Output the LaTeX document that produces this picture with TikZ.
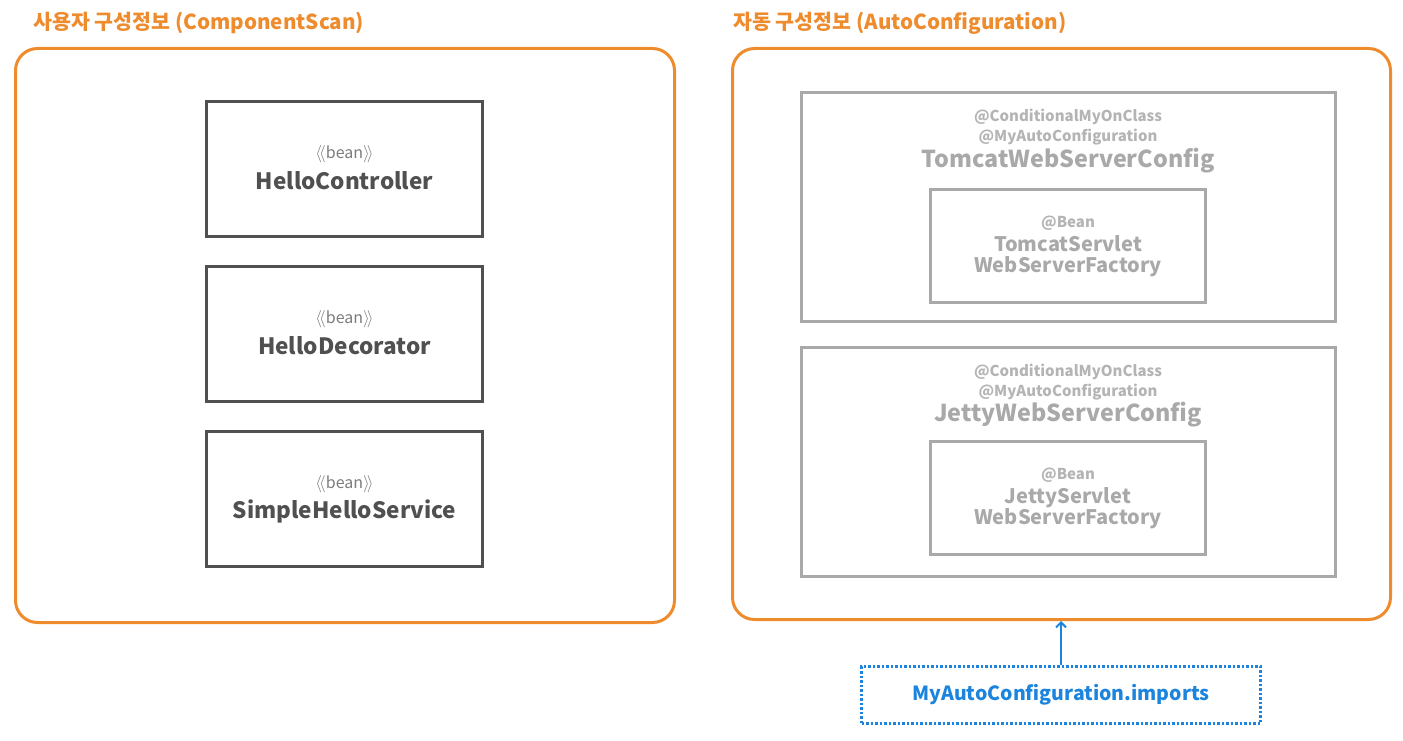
\documentclass[tikz,border=0pt]{standalone}
\usepackage{fontspec}
\setmainfont{Noto Sans CJK KR}
\usetikzlibrary{arrows.meta}
\definecolor{cfgorange}{HTML}{EE8B2D}
\definecolor{beangray}{HTML}{505050}
\definecolor{autogray}{HTML}{A9A9A9}
\definecolor{notegray}{HTML}{B4B4B4}
\definecolor{importblue}{HTML}{1C84DC}
\tikzset{
	group/.style={draw=cfgorange,line width=3pt,rounded corners=22pt,inner sep=0pt},
	grouptitle/.style={inner sep=0pt,anchor=west,text=cfgorange,font=\fontsize{20.6}{24}\selectfont\bfseries,
		text height=16.5pt,text depth=1.6pt},
	beanbox/.style={draw=beangray,line width=3pt,minimum width=276pt,minimum height=135pt,inner sep=0pt},
	stereo/.style={inner sep=0pt,text=beangray!75,font=\fontsize{16}{18}\selectfont,
		text height=12.8pt,text depth=1.3pt},
	beanname/.style={inner sep=0pt,text=beangray,font=\fontsize{22.5}{26}\selectfont\bfseries,
		text height=18pt,text depth=1.8pt},
	cfgbox/.style={draw=autogray,line width=3pt,minimum width=534pt,minimum height=229pt,inner sep=0pt},
	factorybox/.style={draw=autogray,line width=3pt,minimum width=275pt,minimum height=113pt,inner sep=0pt},
	anno/.style={inner sep=0pt,text=notegray,font=\fontsize{15}{18}\selectfont\bfseries,
		text height=12pt,text depth=1.2pt},
	cfgname/.style={inner sep=0pt,text=autogray,font=\fontsize{23.3}{27}\selectfont\bfseries,
		text height=18.6pt,text depth=1.9pt},
	factoryname/.style={inner sep=0pt,text=autogray,font=\fontsize{20}{24}\selectfont\bfseries,
		text height=16pt,text depth=1.6pt},
	importbox/.style={draw=importblue,line width=2.5pt,dotted,minimum width=399pt,minimum height=57pt,
		text=importblue,font=\fontsize{19.5}{24}\selectfont\bfseries}
}
\newcommand{\stereobean}{$\langle\!\langle$bean$\rangle\!\rangle$}
\begin{document}
\begin{tikzpicture}[x=1pt,y=-1pt]
	\useasboundingbox (0,0) rectangle (1403,741);
	
	\node[grouptitle] (usertitle) at (33,22) {사용자 구성정보 (ComponentScan)};
	\node[group,minimum width=659pt,minimum height=574pt] (user) at (345,335.5) {};
	
	\node[beanbox] (ctrl) at (344.5,169) {};
	\node[stereo] (ctrlst) at (344.5,153) {\stereobean};
	\node[beanname] (ctrlname) at (344.5,181) {HelloController};
	
	\node[beanbox] (deco) at (344.5,334) {};
	\node[stereo] (decost) at (344.5,318) {\stereobean};
	\node[beanname] (deconame) at (344.5,346) {HelloDecorator};
	
	\node[beanbox] (svc) at (344.5,498.5) {};
	\node[stereo] (svcst) at (344.5,483) {\stereobean};
	\node[beanname] (svcname) at (344.5,510) {SimpleHelloService};
	
	\node[grouptitle] (autotitle) at (733,22) {자동 구성정보 (AutoConfiguration)};
	\node[group,minimum width=658pt,minimum height=571pt] (auto) at (1061.5,334) {};
	
	\node[cfgbox] (tomcat) at (1068.5,207) {};
	\node[anno] (tomcatcond) at (1068,116) {@ConditionalMyOnClass};
	\node[anno] (tomcatauto) at (1068,136) {@MyAutoConfiguration};
	\node[cfgname] (tomcatname) at (1068,159) {TomcatWebServerConfig};
	\node[factorybox] (tomcatfac) at (1068,246) {};
	\node[anno] (tomcatbean) at (1068,222) {@Bean};
	\node[factoryname] (tomcatfac1) at (1068,244) {TomcatServlet};
	\node[factoryname] (tomcatfac2) at (1068,265) {WebServerFactory};
	
	\node[cfgbox] (jetty) at (1068.5,461.5) {};
	\node[anno] (jettycond) at (1068,371) {@ConditionalMyOnClass};
	\node[anno] (jettyauto) at (1068,391) {@MyAutoConfiguration};
	\node[cfgname] (jettyname) at (1068,413) {JettyWebServerConfig};
	\node[factorybox] (jettyfac) at (1068,498) {};
	\node[anno] (jettybean) at (1068,474) {@Bean};
	\node[factoryname] (jettyfac1) at (1068,496) {JettyServlet};
	\node[factoryname] (jettyfac2) at (1068,517) {WebServerFactory};
	
	\node[importbox] (imports) at (1061,695) {MyAutoConfiguration.imports};
	\draw[importblue,line width=2pt,-{Straight Barb[length=5pt,width=10pt]}] (imports.north) -- (imports.north |- auto.south);
\end{tikzpicture}
\end{document}
